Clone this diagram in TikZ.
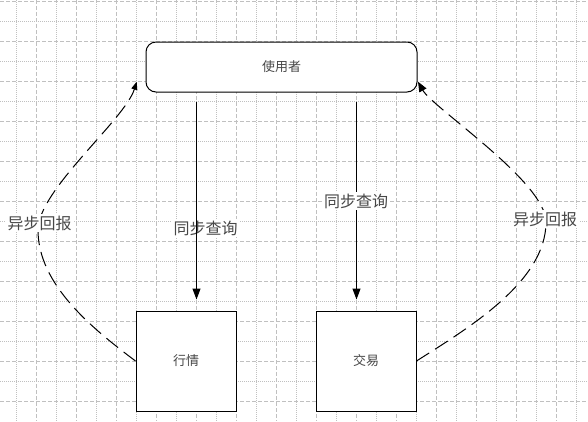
\documentclass[tikz,border=0pt]{standalone}
\usepackage{fontspec}
\setmainfont{Noto Sans CJK SC}
\usepackage{tikz}
\usetikzlibrary{
    arrows.meta,
    positioning,
    calc
}
\definecolor{gridC}{RGB}{192,192,192}
\definecolor{txtC} {gray}{0.28}
\tikzset{
  ubox/.style   = {draw, fill=white, rounded corners=10pt, line width=1pt,
                   minimum width=271pt, minimum height=50pt, inner sep=0pt,
                   text=txtC, font=\fontsize{13pt}{15pt}\selectfont},
  sbox/.style   = {draw, fill=white, line width=1pt,
                   minimum width=100pt, minimum height=100pt, inner sep=0pt,
                   text=txtC, font=\fontsize{13pt}{15pt}\selectfont},
  lbl/.style    = {fill=white, inner sep=2pt, text=txtC,
                   font=\fontsize{16pt}{18pt}\selectfont},
  sync/.style   = {-{Triangle[length=11pt,width=8pt]}, line width=1pt},
  async/.style  = {line width=1pt, dash pattern=on 15pt off 7pt},
  gmaj/.style   = {gridC, line width=0.9pt, dash pattern=on 4pt off 2pt},
  gmin/.style   = {gridC, line width=0.9pt, dash pattern=on 1pt off 1pt}
}

\begin{document}
\begin{tikzpicture}[x=1pt, y=-1pt]

  \useasboundingbox (0,0) rectangle (588,421);

  %% ── Grid ──────────────────────────────────────────────────────
  \foreach \gx in {16,56,...,576} \draw[gmin] (\gx,0) -- (\gx,421);
  \foreach \gx in {36,76,...,556} \draw[gmaj] (\gx,0) -- (\gx,421);
  \foreach \gy in {21.5,61.5,...,381.5} \draw[gmin] (0,\gy) -- (588,\gy);
  \foreach \gy in {1.5,41.5,...,401.5} \draw[gmaj] (0,\gy) -- (588,\gy);

  %% ── Boxes ─────────────────────────────────────────────────────
  \node[ubox] (user) at (281.5, 67) {使用者};
  \node[sbox] (hq)   at (186, 361)  {行情};
  \node[sbox] (jy)   at (366, 361)  {交易};

  %% ── Sync queries (user → box) ─────────────────────────────────
  \coordinate (q1) at (196.5, 0);
  \coordinate (q2) at (356.5, 0);
  \node[lbl] (q1l) at (205.5, 228) {同步查询};
  \draw[sync, shorten <=9pt, shorten >=11pt]
    (user.south -| q1) -- (hq.north -| q1);
  \draw[sync, shorten <=9pt, shorten >=11pt]
    (user.south -| q2) -- (jy.north -| q2);
  \node[lbl] (q2l) at (356, 201) {同步查询};

  %% ── Async replies (box → user) ────────────────────────────────
  \coordinate (lt) at (136.7, 81.7);
  \coordinate (rt) at (418, 81.7);
  % left: 行情 → 使用者
  \draw[async, -{Triangle[length=8pt,width=6pt]}] (hq.west)
    .. controls (93,329) and (38,285) .. (38,230)
    .. controls (38,190) and (124.7,120) .. (lt);
  \node[lbl] (al) at (39.5, 223) {异步回报};
  % right: 交易 → 使用者
  \draw[async, -{Triangle[length=10pt,width=8pt]}] (jy.east)
    .. controls (467.4,328.5) and (546,282) .. (546,222)
    .. controls (546,182) and (432.7,107.8) .. (rt);
  \node[lbl] (ar) at (545, 219) {异步回报};

\end{tikzpicture}
\end{document}
